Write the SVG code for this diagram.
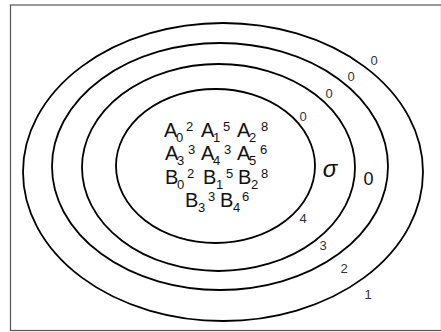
<svg xmlns="http://www.w3.org/2000/svg" width="441" height="332" viewBox="0 0 441 332">
<style>
.ring{fill:none;stroke:#000;stroke-width:1.8}
.lbl{font-family:"Liberation Sans",Arial,sans-serif;font-size:13px;fill:#333;text-anchor:middle}
.big{font-family:"Liberation Sans",Arial,sans-serif;font-size:20px;fill:#111}
.s{font-size:13px}
</style>
<rect x="10.5" y="5" width="431" height="325.5" fill="#fff" stroke="#555" stroke-width="1.2"/>
<g id="connectors"></g>
<g id="ring1"><ellipse class="ring" cx="223" cy="172" rx="200" ry="149"/></g>
<g id="ring2"><ellipse class="ring" cx="220" cy="166.5" rx="168" ry="123.5"/></g>
<g id="ring3"><ellipse class="ring" cx="218.5" cy="167.5" rx="136.5" ry="103.5"/></g>
<g id="ring4"><ellipse class="ring" cx="215.5" cy="166" rx="99.5" ry="77"/></g>
<g id="labels">
<text class="lbl" x="374" y="65">0</text>
<text class="lbl" x="351" y="81">0</text>
<text class="lbl" x="329" y="98">0</text>
<text class="lbl" x="303" y="121">0</text>
<text class="lbl" x="303" y="223">4</text>
<text class="lbl" x="323" y="250">3</text>
<text class="lbl" x="344" y="273">2</text>
<text class="lbl" x="368" y="299">1</text>
<text x="330" y="177" font-family="Liberation Sans,Arial,sans-serif" font-size="24" font-style="italic" text-anchor="middle" fill="#111">σ</text>
<text x="368.5" y="185" font-family="Liberation Sans,Arial,sans-serif" font-size="18" text-anchor="middle" fill="#111">0</text>
</g>
<g id="set">
<text class="big"><tspan x="164" y="137">A</tspan><tspan class="s" x="176" y="142">0</tspan><tspan class="s" x="186" y="131">2</tspan><tspan x="201" y="137">A</tspan><tspan class="s" x="213" y="142">1</tspan><tspan class="s" x="223" y="131">5</tspan><tspan x="237" y="137">A</tspan><tspan class="s" x="249" y="142">2</tspan><tspan class="s" x="261" y="131">8</tspan></text>
<text class="big"><tspan x="165" y="160">A</tspan><tspan class="s" x="177" y="165">3</tspan><tspan class="s" x="188" y="154">3</tspan><tspan x="201" y="160">A</tspan><tspan class="s" x="213" y="165">4</tspan><tspan class="s" x="224" y="154">3</tspan><tspan x="237" y="160">A</tspan><tspan class="s" x="249" y="165">5</tspan><tspan class="s" x="260" y="154">6</tspan></text>
<text class="big"><tspan x="165" y="184">B</tspan><tspan class="s" x="177" y="189">0</tspan><tspan class="s" x="187" y="178">2</tspan><tspan x="203" y="184">B</tspan><tspan class="s" x="216" y="189">1</tspan><tspan class="s" x="226" y="178">5</tspan><tspan x="238" y="184">B</tspan><tspan class="s" x="251" y="189">2</tspan><tspan class="s" x="261" y="178">8</tspan></text>
<text class="big"><tspan x="185" y="207">B</tspan><tspan class="s" x="198" y="212">3</tspan><tspan class="s" x="208" y="201">3</tspan><tspan x="220" y="207">B</tspan><tspan class="s" x="233" y="212">4</tspan><tspan class="s" x="242" y="201">6</tspan></text>
</g>
</svg>
